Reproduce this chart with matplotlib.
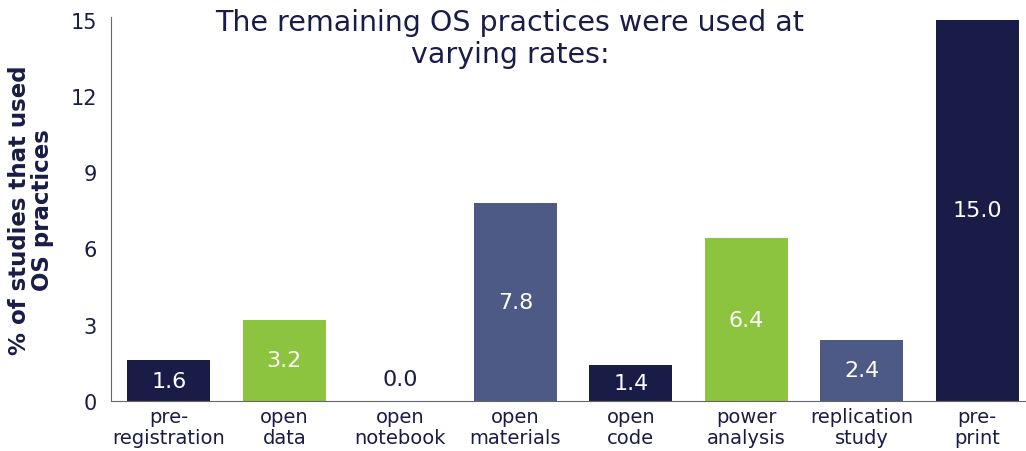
import matplotlib.pyplot as plt

categories = ["pre-\nregistration", "open\ndata", "open\nnotebook", "open\nmaterials",
              "open\ncode", "power\nanalysis", "replication\nstudy", "pre-\nprint"]
values = [1.6, 3.2, 0.0, 7.8, 1.4, 6.4, 2.4, 15.0]

navy = "#1a1c48"
green = "#8cc43f"
slate = "#4c5a85"
colors = [navy, green, navy, slate, navy, green, slate, navy]

plt.rcParams['font.family'] = ['DejaVu Sans']

fig = plt.figure(figsize=(10.26, 4.52), dpi=100)
ax = fig.add_axes([111/1026, 50/452, 924/1026, 384/452])

x = range(len(values))
ax.bar(x, values, width=0.72, color=colors)

for i, v in enumerate(values):
    if v > 0:
        ax.text(i, v / 2, f"{v:.1f}", ha="center", va="center", color="white", fontsize=16)
    else:
        ax.text(i, 0.85, f"{v:.1f}", ha="center", va="center", color=navy, fontsize=16)

ax.set_xlim(-0.5, 7.5)
ax.set_ylim(0, 15.1)
ax.set_yticks([0, 3, 6, 9, 12, 15])
ax.set_xticks(list(x))
ax.set_xticklabels(categories, fontsize=14, color=navy, linespacing=1.15)
ax.tick_params(axis="y", labelsize=15, colors=navy, length=0, pad=10)
ax.tick_params(axis="x", length=0, pad=4)

for s in ["top", "right"]:
    ax.spines[s].set_visible(False)
ax.spines["left"].set_color("#666666")
ax.spines["bottom"].set_color("#666666")

fig.text(31/1026, 0.535, "% of studies that used\nOS practices", rotation=90, ha="center", va="center",
         fontsize=16.5, fontweight="bold", color=navy, linespacing=1.0)

fig.text(510/1026, 1 - 9/452, "The remaining OS practices were used at\nvarying rates:", ha="center", va="top",
         fontsize=20.5, color=navy, linespacing=1.2)

fig.savefig("out.png", dpi=100)
